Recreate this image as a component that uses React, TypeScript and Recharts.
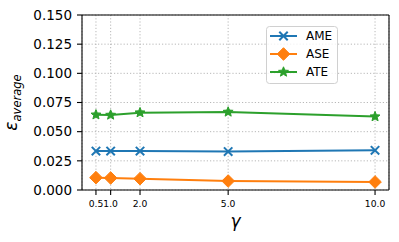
import React from "react";
import {
  LineChart,
  Line,
  XAxis,
  YAxis,
  CartesianGrid,
  ReferenceLine,
} from "recharts";

const gammas = [0.5, 1.0, 2.0, 5.0, 10.0];
const ameValues = [0.0334, 0.0334, 0.0334, 0.0329, 0.034];
const aseValues = [0.0106, 0.0103, 0.0097, 0.0077, 0.0069];
const ateValues = [0.0645, 0.0643, 0.0663, 0.0669, 0.0629];
const yTicks = [0, 0.025, 0.05, 0.075, 0.1, 0.125, 0.15];
const xTicks = [0.5, 1.0, 2.0, 5.0, 10.0];
const seriesNames = ["AME", "ASE", "ATE"];

const data = gammas.map((g, i) => ({
  gamma: g,
  AME: ameValues[i],
  ASE: aseValues[i],
  ATE: ateValues[i],
}));

const COLORS: Record<string, string> = {
  AME: "#1f77b4",
  ASE: "#ff7f0e",
  ATE: "#2ca02c",
};

const FONT = "DejaVu Sans, sans-serif";

function starPoints(cx: number, cy: number, R: number, r: number) {
  const pts: string[] = [];
  for (let i = 0; i < 10; i++) {
    const rad = i % 2 === 0 ? R : r;
    const a = -Math.PI / 2 + (i * Math.PI) / 5;
    pts.push(`${cx + rad * Math.cos(a)},${cy + rad * Math.sin(a)}`);
  }
  return pts.join(" ");
}

function Marker({ kind, cx, cy }: { kind: string; cx: number; cy: number }) {
  const c = COLORS[kind];
  if (kind === "AME") {
    const s = 4.2;
    return (
      <g>
        <line x1={cx - s} y1={cy - s} x2={cx + s} y2={cy + s} stroke={c} strokeWidth={2} />
        <line x1={cx - s} y1={cy + s} x2={cx + s} y2={cy - s} stroke={c} strokeWidth={2} />
      </g>
    );
  }
  if (kind === "ASE") {
    const d = 6.3;
    return (
      <polygon
        points={`${cx},${cy - d} ${cx + d},${cy} ${cx},${cy + d} ${cx - d},${cy}`}
        fill={c}
        stroke={c}
        strokeWidth={1}
      />
    );
  }
  return <polygon points={starPoints(cx, cy, 5.2, 2.3)} fill={c} stroke={c} strokeWidth={1} />;
}

const makeDot = (kind: string) => (props: any) => {
  const { cx, cy, index } = props;
  if (cx == null || cy == null) return <g key={`d-${kind}-${index}`} />;
  return (
    <g key={`d-${kind}-${index}`}>
      <Marker kind={kind} cx={cx} cy={cy} />
    </g>
  );
};

const YLabel = (props: any) => {
  const vb = props.viewBox || { y: 15, height: 175 };
  const x = 17;
  const y = vb.y + vb.height / 2;
  return (
    <text
      x={x}
      y={y}
      transform={`rotate(-90, ${x}, ${y})`}
      textAnchor="middle"
      fontFamily={FONT}
      fontStyle="italic"
      fill="#000"
    >
      <tspan fontSize={17}>ε</tspan>
      <tspan fontSize={11.5} dy={4}>average</tspan>
    </text>
  );
};

const XLabel = (props: any) => {
  const vb = props.viewBox || { x: 82, width: 307 };
  return (
    <text
      x={vb.x + vb.width / 2}
      y={227}
      textAnchor="middle"
      fontFamily={FONT}
      fontStyle="italic"
      fontSize={17}
      fill="#000"
    >
      γ
    </text>
  );
};

const LegendBox = () => {
  return (
    <svg width={73} height={59} style={{ display: "block" }}>
      <rect
        x={0.5}
        y={0.5}
        width={71}
        height={57}
        rx={3}
        ry={3}
        fill="#fff"
        fillOpacity={0.8}
        stroke="#d0d0d0"
        strokeWidth={1}
      />
      {seriesNames.map((n, i) => {
        const cy = 10 + i * 18;
        return (
          <g key={n}>
            <line x1={4} y1={cy} x2={31} y2={cy} stroke={COLORS[n]} strokeWidth={2} />
            <Marker kind={n} cx={17.5} cy={cy} />
            <text x={40} y={cy} dy="0.36em" fontFamily={FONT} fontSize={12} fill="#000">
              {n}
            </text>
          </g>
        );
      })}
    </svg>
  );
};

export default function App() {
  return (
    <div style={{ position: "absolute", left: 0, top: 0, width: 399, height: 242, background: "#fff" }}>
      <LineChart
        width={399}
        height={242}
        data={data}
        margin={{ top: 15, right: 10, bottom: 0, left: 0 }}
      >
        <CartesianGrid stroke="#b0b0b0" strokeDasharray="1.2 2" strokeWidth={0.9} />
        <XAxis
          dataKey="gamma"
          type="number"
          domain={[0.025, 10.475]}
          ticks={xTicks}
          tickFormatter={(v: number) => v.toFixed(1)}
          height={52}
          tickSize={5}
          tickMargin={5}
          interval={0}
          allowDataOverflow
          stroke="#000"
          strokeWidth={1.1}
          tick={{ fill: "#000", fontSize: 9.2, fontFamily: FONT }}
          label={<XLabel />}
        />
        <YAxis
          type="number"
          domain={[0, 0.15]}
          ticks={yTicks}
          tickFormatter={(v: number) => v.toFixed(3)}
          width={82}
          tickSize={5}
          tickMargin={5}
          interval={0}
          allowDataOverflow
          stroke="#000"
          strokeWidth={1.1}
          tick={{ fill: "#000", fontSize: 13.5, fontFamily: FONT }}
          label={<YLabel />}
        />
        <ReferenceLine y={0.15} stroke="#000" strokeWidth={1.1} />
        <ReferenceLine x={10.475} stroke="#000" strokeWidth={1.1} />
        {seriesNames.map((n) => (
          <Line
            key={n}
            type="linear"
            dataKey={n}
            name={n}
            stroke={COLORS[n]}
            strokeWidth={2}
            dot={makeDot(n)}
            activeDot={false}
            isAnimationActive={false}
          />
        ))}
      </LineChart>
      <div style={{ position: "absolute", left: 266, top: 26 }}>
        <LegendBox />
      </div>
    </div>
  );
}
